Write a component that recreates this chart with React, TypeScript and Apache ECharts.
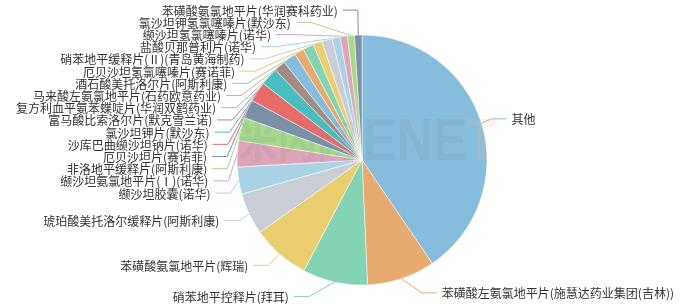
import React, { useEffect, useRef } from "react";
import * as echarts from "echarts";

// Drug products, in drawing order (clockwise from the top)
const products: string[] = [
  "其他",
  "苯磺酸左氨氯地平片(施慧达药业集团(吉林))",
  "硝苯地平控释片(拜耳)",
  "苯磺酸氨氯地平片(辉瑞)",
  "琥珀酸美托洛尔缓释片(阿斯利康)",
  "缬沙坦胶囊(诺华)",
  "缬沙坦氨氯地平片(Ⅰ)(诺华)",
  "非洛地平缓释片(阿斯利康)",
  "厄贝沙坦片(赛诺菲)",
  "沙库巴曲缬沙坦钠片(诺华)",
  "氯沙坦钾片(默沙东)",
  "富马酸比索洛尔片(默克雪兰诺)",
  "复方利血平氨苯蝶啶片(华润双鹤药业)",
  "马来酸左氨氯地平片(石药欧意药业)",
  "酒石酸美托洛尔片(阿斯利康)",
  "厄贝沙坦氢氯噻嗪片(赛诺菲)",
  "硝苯地平缓释片(Ⅱ)(青岛黄海制药)",
  "盐酸贝那普利片(诺华)",
  "缬沙坦氢氯噻嗪片(诺华)",
  "氯沙坦钾氢氯噻嗪片(默沙东)",
  "苯磺酸氨氯地平片(华润赛科药业)",
];

// Market share, %
const shares: number[] = [
  40.5, 8.8, 8.4, 7.5, 5.4, 3.5, 3.4, 3.0, 2.4, 2.6, 2.3, 1.5, 1.7, 1.25, 1.4,
  1.15, 1.35, 1.05, 0.95, 0.9, 0.95,
];

const palette: string[] = [
  "#87bddc",
  "#e8ab6f",
  "#84d3b4",
  "#eacd6e",
  "#c9ced6",
  "#a9d2e6",
  "#dfa4b8",
  "#a6d98a",
  "#7b8fa8",
  "#e86c6a",
  "#47bfc2",
  "#a48c84",
];

const WIDTH = 683;
const HEIGHT = 304;
const CX = 362;
const CY = 160;
const R = 125;
const LINE_LEN = 15;
const LINE_LEN2 = 15;
const LABEL_GAP = 5;
const LABEL_STEP = 12.2;

interface LabelPos {
  x: number;
  y: number;
  natural: number;
  points: number[][];
}

// Outside labels: each sits at the end of a two-segment guide line. Labels
// that collide on one side are stacked into a block centred between its
// outermost members, then slid along an ellipse so they hug the pie.
function layoutLabels(values: number[]): LabelPos[] {
  const total = values.reduce((a, b) => a + b, 0);
  let angle = -Math.PI / 2;
  const all: LabelPos[] = values.map((v) => {
    const span = (v / total) * Math.PI * 2;
    const mid = angle + span / 2;
    angle += span;
    const dx = Math.cos(mid);
    const dy = Math.sin(mid);
    const x1 = CX + R * dx;
    const y1 = CY + R * dy;
    const x2 = x1 + dx * LINE_LEN;
    const y2 = y1 + dy * LINE_LEN;
    const x3 = x2 + (dx < 0 ? -1 : 1) * LINE_LEN2;
    return {
      x: x3 + (dx < 0 ? -LABEL_GAP : LABEL_GAP),
      y: y2,
      natural: y2,
      points: [
        [x1, y1],
        [x2, y2],
        [x3, y2],
      ],
    };
  });

  const adjustSide = (list: LabelPos[], dir: number) => {
    list.sort((a, b) => a.natural - b.natural);
    // blocks of consecutive labels
    let blocks: { items: LabelPos[]; top: number }[] = list.map((l) => ({
      items: [l],
      top: l.natural,
    }));
    const place = (b: { items: LabelPos[]; top: number }) => {
      const first = b.items[0].natural;
      const last = b.items[b.items.length - 1].natural;
      const centre = (first + last) / 2;
      let top = centre - ((b.items.length - 1) * LABEL_STEP) / 2;
      const minTop = LABEL_STEP / 2;
      const maxTop = HEIGHT - LABEL_STEP / 2 - (b.items.length - 1) * LABEL_STEP;
      top = Math.max(minTop, Math.min(maxTop, top));
      b.top = top;
    };
    blocks.forEach(place);
    let merged = true;
    while (merged) {
      merged = false;
      for (let i = 0; i + 1 < blocks.length; i++) {
        const a = blocks[i];
        const b = blocks[i + 1];
        const aBottom = a.top + (a.items.length - 1) * LABEL_STEP;
        if (b.top - aBottom < LABEL_STEP) {
          const nb = { items: a.items.concat(b.items), top: 0 };
          place(nb);
          blocks = blocks.slice(0, i).concat([nb], blocks.slice(i + 2));
          merged = true;
          break;
        }
      }
    }
    for (const b of blocks) {
      b.items.forEach((it, k) => {
        it.y = b.top + k * LABEL_STEP;
      });
    }

    const changeX = (sub: LabelPos[], isDown: boolean) => {
      let lastDX = isDown ? Number.MAX_VALUE : 0;
      const reach = R + LINE_LEN + LINE_LEN2;
      for (const item of sub) {
        const deltaY = Math.abs(item.y - CY);
        let deltaX =
          deltaY < R + LINE_LEN
            ? Math.sqrt(reach * reach - deltaY * deltaY)
            : Math.abs(item.x - CX);
        if (isDown && deltaX >= lastDX) deltaX = lastDX - 10;
        if (!isDown && deltaX <= lastDX) deltaX = lastDX + 10;
        item.x = CX + deltaX * dir;
        lastDX = deltaX;
      }
    };
    changeX(list.filter((l) => l.y < CY), false);
    changeX(list.filter((l) => l.y >= CY), true);
  };

  adjustSide(all.filter((l) => l.points[0][0] < CX), -1);
  adjustSide(all.filter((l) => l.points[0][0] >= CX), 1);

  for (const l of all) {
    const p = l.points;
    const dist = p[1][0] - p[2][0];
    p[2][0] = l.x < CX ? l.x + LABEL_GAP : l.x - LABEL_GAP;
    p[1][0] = p[2][0] + dist;
    p[1][1] = p[2][1] = l.y;
  }
  return all;
}

export default function App() {
  const ref = useRef<HTMLDivElement>(null);

  useEffect(() => {
    if (!ref.current) return;
    const chart = echarts.init(ref.current, undefined, { renderer: "svg" });
    const labelPos = layoutLabels(shares);
    chart.setOption({
      animation: false,
      color: palette,
      graphic: [
        {
          type: "text",
          x: 238,
          y: 139,
          scaleX: 0.9,
          z: 10,
          silent: true,
          style: {
            text: "米内网",
            fontSize: 44,
            fontWeight: "bold",
            fontFamily: "Noto Sans CJK SC",
            fill: "rgba(130,150,165,0.16)",
            align: "left",
            verticalAlign: "middle",
          },
        },
        {
          type: "text",
          x: 363,
          y: 139,
          scaleX: 0.84,
          z: 10,
          silent: true,
          style: {
            text: "{a|ENE}{b|T}",
            fontSize: 60,
            fontWeight: "bold",
            fontFamily: "Liberation Sans",
            align: "left",
            verticalAlign: "middle",
            rich: {
              a: {
                fontSize: 60,
                fontWeight: "bold",
                fontFamily: "Liberation Sans",
                fill: "rgba(120,140,150,0.18)",
              },
              b: {
                fontSize: 60,
                fontWeight: "bold",
                fontFamily: "Liberation Sans",
                fill: "rgba(245,190,140,0.18)",
              },
            },
          },
        },
      ],
      series: [
        {
          type: "pie",
          center: [CX, CY],
          radius: R,
          startAngle: 90,
          clockwise: true,
          itemStyle: { borderColor: "#fff", borderWidth: 0.5 },
          label: {
            show: true,
            color: "#333",
            fontSize: 12,
            lineHeight: 12,
            overflow: "none",
            fontFamily: "Noto Sans CJK SC",
          },
          labelLine: { show: true, length: LINE_LEN, length2: LINE_LEN2 },
          labelLayout: (params: any) => {
            const p = labelPos[params.dataIndex];
            return {
              x: p.x,
              y: p.y,
              align: p.x < CX ? "right" : "left",
              verticalAlign: "middle",
              labelLinePoints: p.points,
            };
          },
          data: products.map((name, i) => ({ name, value: shares[i] })),
        },
      ],
    });
    return () => chart.dispose();
  }, []);

  return (
    <div
      ref={ref}
      style={{ position: "fixed", left: 0, top: 0, width: WIDTH, height: HEIGHT }}
    />
  );
}
